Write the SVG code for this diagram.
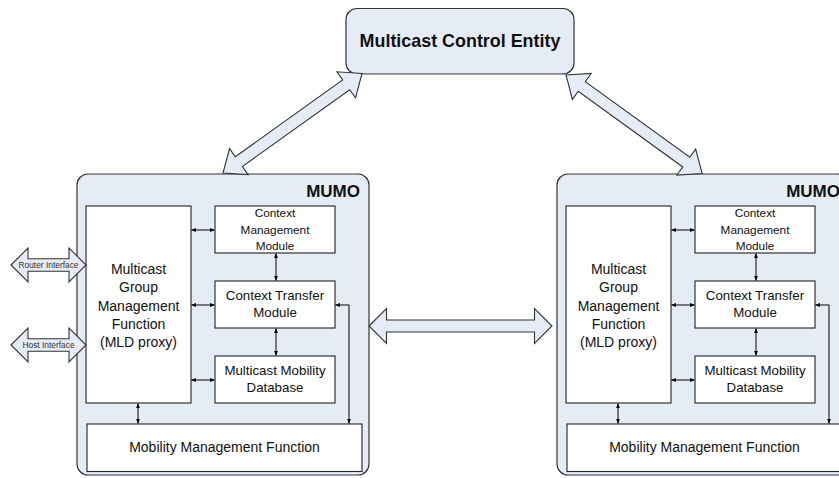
<svg xmlns="http://www.w3.org/2000/svg" width="839" height="478" viewBox="0 0 839 478">
<defs>
<style>
.cont{fill:#E6ECF6;stroke:#333;stroke-width:1.2}
.box{fill:#fff;stroke:#222;stroke-width:1.1}
.blk{fill:#E6ECF6;stroke:#333;stroke-width:1.1;stroke-linejoin:miter}
.ln{fill:none;stroke:#000;stroke-width:1;marker-start:url(#ah);marker-end:url(#ah)}
text{font-family:"Liberation Sans",Arial,sans-serif;fill:#111}
.b{font-weight:bold}
.mid{text-anchor:middle}
.t13{font-size:13.3px}
.t14{font-size:14px}
.t11{font-size:11.8px}
.tiny{font-size:8.4px;fill:#333}
</style>
<marker id="ah" viewBox="0 0 10 10" refX="9.5" refY="5" markerWidth="5" markerHeight="5" orient="auto-start-reverse" markerUnits="userSpaceOnUse">
<path d="M0,1 L10,5 L0,9 Z" fill="#000"/>
</marker>
</defs>

<g id="mce">
<rect class="cont" x="346" y="8.5" width="228" height="65.5" rx="11"/>
<text class="b mid" x="460" y="47" font-size="17.9">Multicast Control Entity</text>
</g>

<g id="mumo-left">
<rect class="cont" x="77" y="174" width="292" height="301" rx="11"/>
<text class="b" x="360" y="197" text-anchor="end" font-size="17">MUMO</text>
<g id="mgmf-left">
<rect class="box" x="86" y="206" width="105" height="197"/>
<text class="mid t14" x="138.5"><tspan x="138.5" y="274">Multicast</tspan><tspan x="138.5" y="292.3">Group</tspan><tspan x="138.5" y="310.6">Management</tspan><tspan x="138.5" y="328.9">Function</tspan><tspan x="138.5" y="347.2">(MLD proxy)</tspan></text>
</g>
<g id="cmm-left">
<rect class="box" x="215" y="206" width="120" height="47"/>
<text class="mid t11" x="275"><tspan x="275" y="217">Context</tspan><tspan x="275" y="233.5">Management</tspan><tspan x="275" y="250">Module</tspan></text>
</g>
<g id="ctm-left">
<rect class="box" x="215" y="281" width="120" height="47"/>
<text class="mid t13" x="275"><tspan x="275" y="300">Context Transfer</tspan><tspan x="275" y="316.7">Module</tspan></text>
</g>
<g id="mmd-left">
<rect class="box" x="215" y="356" width="120" height="47"/>
<text class="mid t13" x="275"><tspan x="275" y="375">Multicast Mobility</tspan><tspan x="275" y="391.7">Database</tspan></text>
</g>
<g id="mmf-left">
<rect class="box" x="87" y="424" width="275" height="47.5"/>
<text class="mid t14" x="224.5" y="452">Mobility Management Function</text>
</g>
</g>

<g id="mumo-right">
<rect class="cont" x="557" y="174" width="292" height="301" rx="11"/>
<text class="b" x="840" y="197" text-anchor="end" font-size="17">MUMO</text>
<g id="mgmf-right">
<rect class="box" x="566" y="206" width="105" height="197"/>
<text class="mid t14" x="618.5"><tspan x="618.5" y="274">Multicast</tspan><tspan x="618.5" y="292.3">Group</tspan><tspan x="618.5" y="310.6">Management</tspan><tspan x="618.5" y="328.9">Function</tspan><tspan x="618.5" y="347.2">(MLD proxy)</tspan></text>
</g>
<g id="cmm-right">
<rect class="box" x="695" y="206" width="120" height="47"/>
<text class="mid t11" x="755"><tspan x="755" y="217">Context</tspan><tspan x="755" y="233.5">Management</tspan><tspan x="755" y="250">Module</tspan></text>
</g>
<g id="ctm-right">
<rect class="box" x="695" y="281" width="120" height="47"/>
<text class="mid t13" x="755"><tspan x="755" y="300">Context Transfer</tspan><tspan x="755" y="316.7">Module</tspan></text>
</g>
<g id="mmd-right">
<rect class="box" x="695" y="356" width="120" height="47"/>
<text class="mid t13" x="755"><tspan x="755" y="375">Multicast Mobility</tspan><tspan x="755" y="391.7">Database</tspan></text>
</g>
<g id="mmf-right">
<rect class="box" x="567" y="424" width="275" height="47.5"/>
<text class="mid t14" x="704.5" y="452">Mobility Management Function</text>
</g>
</g>

<g id="connectors">
<path class="blk" transform="translate(223,173) rotate(-35.6)" d="M0,0 L19.5,-16 L19.5,-6 L151.5,-6 L151.5,-16 L171,0 L151.5,16 L151.5,6 L19.5,6 L19.5,16 Z"/>
<path class="blk" transform="translate(566,75) rotate(35.9)" d="M0,0 L19.5,-16 L19.5,-6 L148.5,-6 L148.5,-16 L168,0 L148.5,16 L148.5,6 L19.5,6 L19.5,16 Z"/>
<path class="blk" transform="translate(369,326)" d="M0,0 L17.5,-17.5 L17.5,-6 L165.5,-6 L165.5,-17.5 L183,0 L165.5,17.5 L165.5,6 L17.5,6 L17.5,17.5 Z"/>
<g id="router-if">
<path class="blk" transform="translate(11,265)" d="M0,0 L17,-17 L17,-6.3 L58,-6.3 L58,-17 L75,0 L58,17 L58,6.3 L17,6.3 L17,17 Z"/>
<text class="mid tiny" x="48.5" y="268">Router Interface</text>
</g>
<g id="host-if">
<path class="blk" transform="translate(11,345)" d="M0,0 L17,-17 L17,-6.3 L58,-6.3 L58,-17 L75,0 L58,17 L58,6.3 L17,6.3 L17,17 Z"/>
<text class="mid tiny" x="48.5" y="348">Host Interface</text>
</g>
<g id="inner-left">
<line class="ln" x1="191.5" y1="230" x2="214.5" y2="230"/>
<line class="ln" x1="191.5" y1="305" x2="214.5" y2="305"/>
<line class="ln" x1="191.5" y1="380" x2="214.5" y2="380"/>
<line class="ln" x1="276" y1="253.5" x2="276" y2="280.5"/>
<line class="ln" x1="276" y1="328.5" x2="276" y2="355.5"/>
<line class="ln" x1="138" y1="403.5" x2="138" y2="423.5"/>
<path class="ln" d="M335.5,305 H349 V423.5"/>
</g>
<g id="inner-right">
<line class="ln" x1="671.5" y1="230" x2="694.5" y2="230"/>
<line class="ln" x1="671.5" y1="305" x2="694.5" y2="305"/>
<line class="ln" x1="671.5" y1="380" x2="694.5" y2="380"/>
<line class="ln" x1="756" y1="253.5" x2="756" y2="280.5"/>
<line class="ln" x1="756" y1="328.5" x2="756" y2="355.5"/>
<line class="ln" x1="618" y1="403.5" x2="618" y2="423.5"/>
<path class="ln" d="M815.5,305 H829 V423.5"/>
</g>
</g>
</svg>
